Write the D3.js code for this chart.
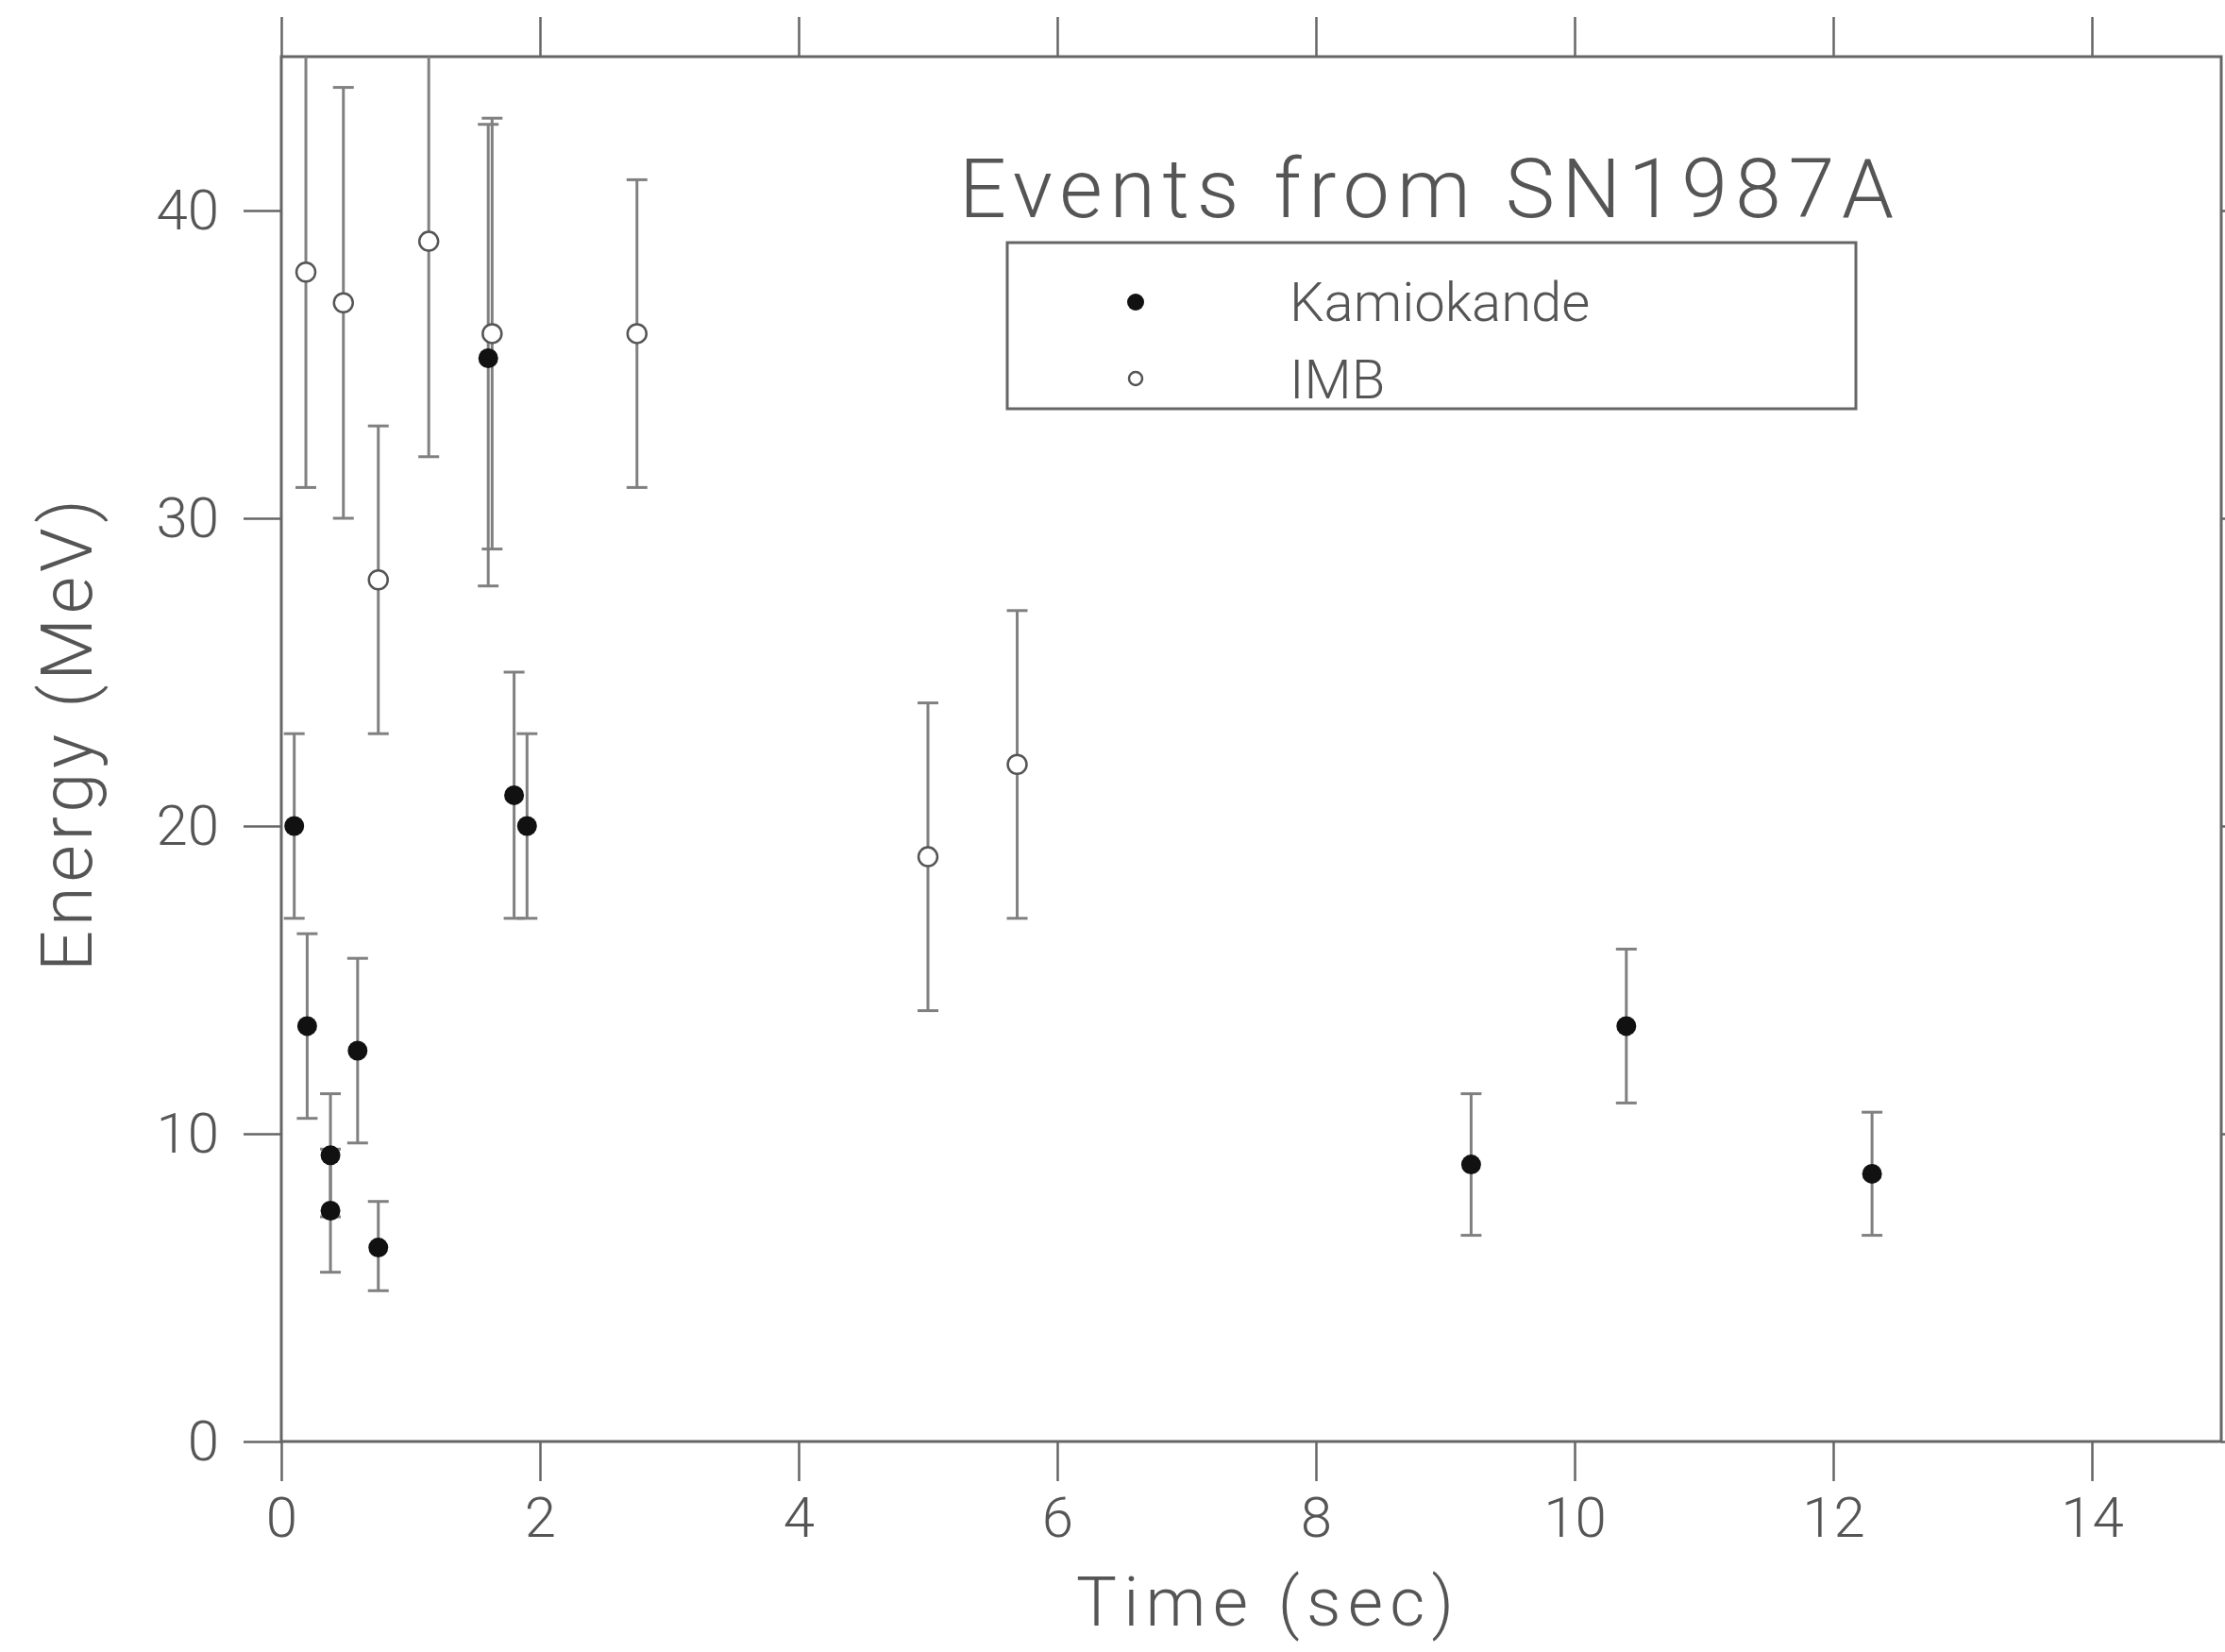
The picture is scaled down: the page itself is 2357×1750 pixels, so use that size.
<!DOCTYPE html>
<html>
<head>
<meta charset="utf-8">
<script src="https://cdn.jsdelivr.net/npm/d3@7"></script>
<style>
  body { margin: 0; background: #fff; }
  svg { display: block; }
  .tick text { font-family: Roboto, "DejaVu Sans", sans-serif; font-weight: 300; fill: #555; }
  .axis-title { font-family: Roboto, "DejaVu Sans", sans-serif; font-weight: 300; fill: #555; }
</style>
</head>
<body>
<div id="chart"></div>
<script>
var width = 2357,
    height = 1750;

// data
var timeTicks = [0, 2, 4, 6, 8, 10, 12, 14];
var energyTicks = [0, 10, 20, 30, 40];

var kamTime   = [0.1, 0.2, 0.38, 0.38, 0.59, 0.75, 1.6, 1.8, 1.9, 9.2, 10.4, 12.3];
var kamEnergy = [20, 13.5, 9.3, 7.5, 12.7, 6.3, 35.2, 21, 20, 9, 13.5, 8.7];
var kamLow    = [17, 10.5, 7.3, 5.5, 9.7, 4.9, 27.8, 17, 17, 6.7, 11, 6.7];
var kamHigh   = [23, 16.5, 11.3, 9.5, 15.7, 7.8, 42.8, 25, 23, 11.3, 16, 10.7];

var imbTime   = [0.19, 0.48, 0.75, 1.14, 1.63, 2.75, 5.0, 5.69];
var imbEnergy = [38, 37, 28, 39, 36, 36, 19, 22];
var imbLow    = [31, 30, 23, 32, 29, 31, 14, 17];
var imbHigh   = [45, 44, 33, 46, 43, 41, 24, 27];

var kam = kamTime.map(function(t, i) {
  return {t: t, e: kamEnergy[i], lo: kamLow[i], hi: kamHigh[i]};
});
var imb = imbTime.map(function(t, i) {
  return {t: t, e: imbEnergy[i], lo: imbLow[i], hi: imbHigh[i]};
});

var plot = {left: 298, right: 2353, top: 60, bottom: 1527};

var svg = d3.select("#chart").append("svg")
  .attr("width", width)
  .attr("height", height);

var xScale = d3.scaleLinear().domain([0, 15]).range([plot.left, plot.right]);
var yScale = d3.scaleLinear().domain([0, 45]).range([plot.bottom, plot.top]);

var axisColor = "#666";

//axes on all four sides, ticks pointing out
function styleAxis(g) {
  g.select(".domain").remove();
  g.selectAll(".tick line").attr("stroke", axisColor).attr("stroke-width", 2.5);
  g.selectAll(".tick text").style("font-size", "60px");
}

svg.append("g")
  .attr("transform", "translate(0," + plot.bottom + ")")
  .call(d3.axisBottom(xScale).tickValues(timeTicks).tickSize(42).tickPadding(16).tickFormat(d3.format("d")))
  .call(styleAxis);

svg.append("g")
  .attr("transform", "translate(0," + plot.top + ")")
  .call(d3.axisTop(xScale).tickValues(timeTicks).tickSize(42).tickFormat(""))
  .call(styleAxis);

svg.append("g")
  .attr("transform", "translate(" + plot.left + ",0)")
  .call(d3.axisLeft(yScale).tickValues(energyTicks).tickSize(40).tickPadding(26).tickFormat(d3.format("d")))
  .call(styleAxis);

svg.append("g")
  .attr("transform", "translate(" + plot.right + ",0)")
  .call(d3.axisRight(yScale).tickValues(energyTicks).tickSize(40).tickFormat(""))
  .call(styleAxis);

svg.append("rect")
  .attr("x", plot.left)
  .attr("y", plot.top)
  .attr("width", plot.right - plot.left)
  .attr("height", plot.bottom - plot.top)
  .attr("fill", "none")
  .attr("stroke", axisColor)
  .attr("stroke-width", 3);

//error bars
var barColor = "#808080";
var capHalf = 11;
var yMax = yScale.domain()[1];

function errorBars(data, cls) {
  var g = svg.append("g").attr("class", cls);
  g.selectAll("line.bar").data(data).enter().append("line")
    .attr("class", "bar")
    .attr("x1", function(d) { return xScale(d.t); })
    .attr("x2", function(d) { return xScale(d.t); })
    .attr("y1", function(d) { return yScale(Math.min(d.hi, yMax)); })
    .attr("y2", function(d) { return yScale(d.lo); })
    .attr("stroke", barColor)
    .attr("stroke-width", 3);
  g.selectAll("line.lo").data(data).enter().append("line")
    .attr("class", "lo")
    .attr("x1", function(d) { return xScale(d.t) - capHalf; })
    .attr("x2", function(d) { return xScale(d.t) + capHalf; })
    .attr("y1", function(d) { return yScale(d.lo); })
    .attr("y2", function(d) { return yScale(d.lo); })
    .attr("stroke", barColor)
    .attr("stroke-width", 3);
  g.selectAll("line.hi").data(data.filter(function(d) { return d.hi < yMax; })).enter().append("line")
    .attr("class", "hi")
    .attr("x1", function(d) { return xScale(d.t) - capHalf; })
    .attr("x2", function(d) { return xScale(d.t) + capHalf; })
    .attr("y1", function(d) { return yScale(d.hi); })
    .attr("y2", function(d) { return yScale(d.hi); })
    .attr("stroke", barColor)
    .attr("stroke-width", 3);
}

errorBars(imb, "imb-err");
errorBars(kam, "kam-err");

svg.append("g").selectAll("circle").data(imb).enter().append("circle")
  .attr("cx", function(d) { return xScale(d.t); })
  .attr("cy", function(d) { return yScale(d.e); })
  .attr("r", 10)
  .attr("fill", "#fff")
  .attr("stroke", "#555")
  .attr("stroke-width", 2.5);

svg.append("g").selectAll("circle").data(kam).enter().append("circle")
  .attr("cx", function(d) { return xScale(d.t); })
  .attr("cy", function(d) { return yScale(d.e); })
  .attr("r", 10.5)
  .attr("fill", "#111");

//title and legend
svg.append("text")
  .attr("class", "axis-title")
  .attr("x", 1016)
  .attr("y", 230)
  .attr("textLength", 990)
  .attr("lengthAdjust", "spacing")
  .style("font-size", "88px")
  .text("Events from SN1987A");

svg.append("rect")
  .attr("x", 1067)
  .attr("y", 257)
  .attr("width", 899)
  .attr("height", 176)
  .attr("fill", "none")
  .attr("stroke", axisColor)
  .attr("stroke-width", 3);

svg.append("circle")
  .attr("cx", 1203).attr("cy", 320).attr("r", 9)
  .attr("fill", "#111");
svg.append("circle")
  .attr("cx", 1203).attr("cy", 401).attr("r", 7)
  .attr("fill", "#fff").attr("stroke", "#555").attr("stroke-width", 2.5);

svg.append("text")
  .attr("class", "axis-title")
  .attr("x", 1366).attr("y", 340)
  .style("font-size", "58px")
  .text("Kamiokande");
svg.append("text")
  .attr("class", "axis-title")
  .attr("x", 1366).attr("y", 422)
  .style("font-size", "58px")
  .text("IMB");

//axis titles
svg.append("text")
  .attr("class", "axis-title")
  .attr("text-anchor", "middle")
  .attr("x", 1340)
  .attr("y", 1722)
  .attr("textLength", 400)
  .attr("lengthAdjust", "spacing")
  .style("font-size", "72px")
  .text("Time (sec)");

svg.append("text")
  .attr("class", "axis-title")
  .attr("text-anchor", "middle")
  .attr("transform", "translate(97,779) rotate(-90)")
  .attr("textLength", 500)
  .attr("lengthAdjust", "spacing")
  .style("font-size", "76px")
  .text("Energy (MeV)");
</script>
</body>
</html>
